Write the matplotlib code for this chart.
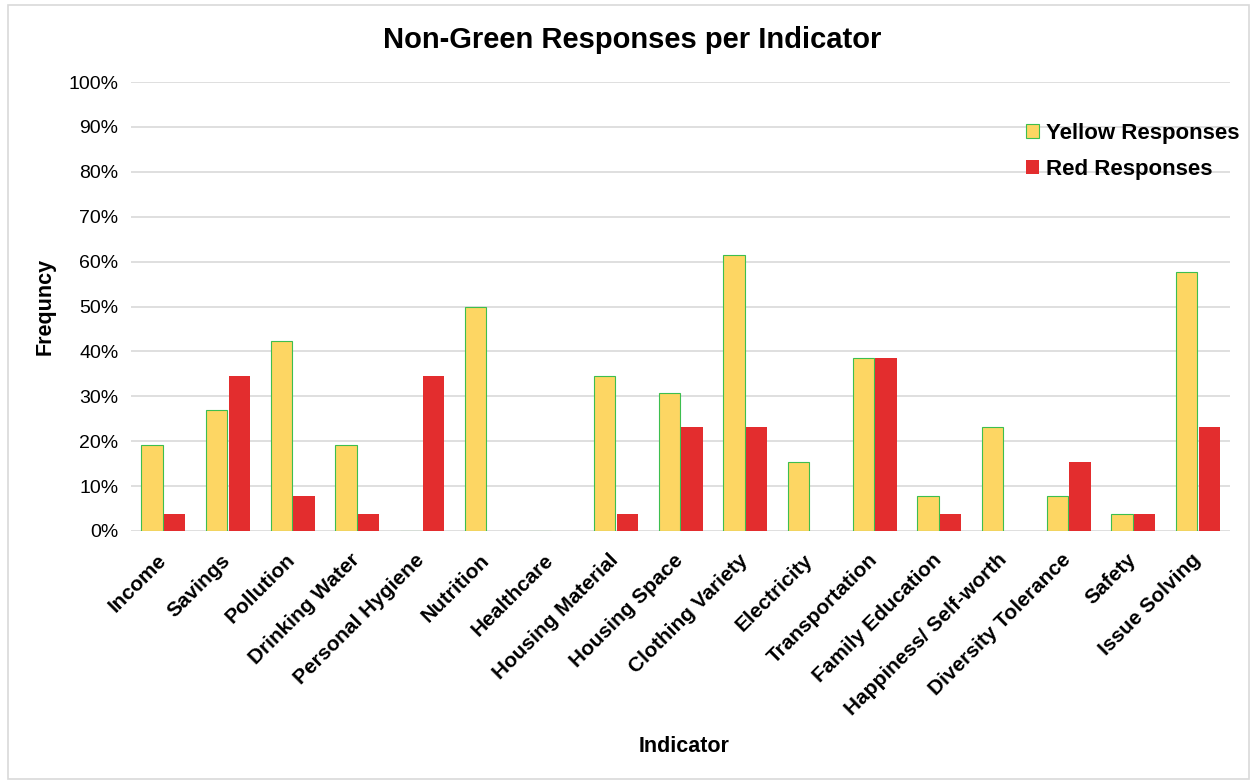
import numpy as np
import matplotlib.pyplot as plt
from matplotlib.patches import Rectangle
from matplotlib.ticker import PercentFormatter
from matplotlib.transforms import ScaledTranslation

plt.rcParams['font.family'] = ['Liberation Sans', 'DejaVu Sans']

# Datos (porcentaje de respuestas)
indicadores = ['Income', 'Savings', 'Pollution', 'Drinking Water', 'Personal Hygiene',
               'Nutrition', 'Healthcare', 'Housing Material', 'Housing Space',
               'Clothing Variety', 'Electricity', 'Transportation', 'Family Education',
               'Happiness/ Self-worth', 'Diversity Tolerance', 'Safety', 'Issue Solving']
amarillas = [19.2, 26.9, 42.3, 19.2, 0.0, 50.0, 0.0, 34.6, 30.8, 61.5, 15.4, 38.5,
             7.7, 23.1, 7.7, 3.8, 57.7]
rojas = [3.8, 34.6, 7.7, 3.8, 34.6, 0.0, 0.0, 3.8, 23.1, 23.1, 0.0, 38.5,
         3.8, 0.0, 15.4, 3.8, 23.1]

fig = plt.figure(figsize=(12.52, 7.82), dpi=100)
ax = fig.add_axes([0.1046, 0.321, 0.878, 0.574])

x = np.arange(len(indicadores))
ancho = 0.33
ax.bar(x - 0.175, amarillas, ancho, color='#FDD663', edgecolor='#3DBE4F',
       linewidth=0.8, label='Yellow Responses', zorder=3)
ax.bar(x + 0.175, rojas, ancho, color='#E32D2E', label='Red Responses', zorder=3)

ax.set_xlim(-0.5, len(indicadores) - 0.5)
ax.set_ylim(0, 100)
ax.set_yticks(np.arange(0, 101, 10))
ax.yaxis.set_major_formatter(PercentFormatter(decimals=0))
ax.grid(axis='y', color='#D9D9D9', linewidth=1.2, zorder=0)
for s in ax.spines.values():
    s.set_visible(False)
ax.tick_params(axis='both', length=0)
ax.tick_params(axis='y', labelsize=14, pad=9)
ax.set_xticks(x)
ax.set_xticklabels(indicadores, rotation=45, ha='right', rotation_mode='anchor',
                   fontsize=15, fontweight='bold')
ax.tick_params(axis='x', pad=14)
# mover un poco las etiquetas a la izquierda
desplazamiento = ScaledTranslation(-7 / 100, 0, fig.dpi_scale_trans)
for etiqueta in ax.get_xticklabels():
    etiqueta.set_transform(etiqueta.get_transform() + desplazamiento)

fig.text(0.505, 0.949, 'Non-Green Responses per Indicator', ha='center', va='center',
         fontsize=21, fontweight='bold')
ax.set_ylabel('Frequncy', fontsize=15.5, fontweight='bold', labelpad=9)
fig.text(0.546, 0.046, 'Indicator', ha='center', va='center', fontsize=15.5,
         fontweight='bold')

leg = fig.legend(loc='upper left', bbox_to_anchor=(1015 / 1252, 1 - 112 / 782),
                 frameon=False, borderpad=0, prop={'size': 16, 'weight': 'bold'},
                 handlelength=0.6, handleheight=0.6, handletextpad=0.3,
                 labelspacing=0.65)

# Borde gris alrededor del grafico
fig.patches.append(Rectangle((0.006, 0.004), 0.992, 0.99, transform=fig.transFigure,
                             fill=False, edgecolor='#D9D9D9', linewidth=1.2))

fig.savefig('out.png', dpi=100)
